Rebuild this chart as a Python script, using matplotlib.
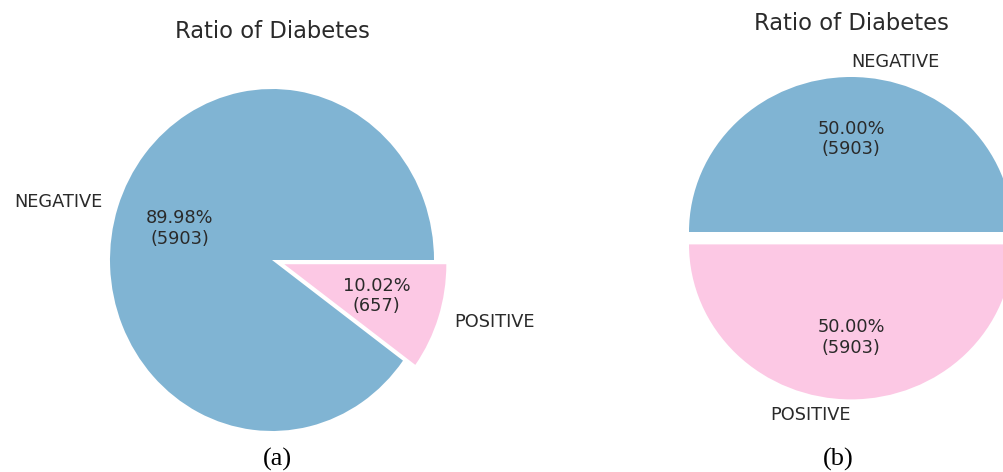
import matplotlib.pyplot as plt

plt.rcParams['font.family'] = 'DejaVu Sans'

# data
labels = ['NEGATIVE', 'POSITIVE']
counts_before = [5903, 657]     # (a) original data
counts_after = [5903, 5903]     # (b) after balancing
colors = ['#80b4d3', '#fcc8e4']
explode = [0, 0.08]


def make_autopct(values):
    total = sum(values)

    def fmt(pct):
        return '{:.2f}%\n({:d})'.format(pct, int(round(pct * total / 100.0)))
    return fmt


def draw_pie(fig, counts, cx, cy, rx, ry, title_y, sub, sub_x, sub_y):
    """Place a pie with its centre at (cx, cy) pixels, radii rx, ry"""
    W, H = fig.get_size_inches() * fig.dpi
    lim = 1.2
    ax = fig.add_axes([(cx - lim * rx) / W, (H - cy - lim * ry) / H,
                       2 * lim * rx / W, 2 * lim * ry / H])
    wedges, texts, autotexts = ax.pie(
        counts, labels=labels, colors=colors, explode=explode,
        autopct=make_autopct(counts),
        textprops={'fontsize': 12.8, 'color': '#2a2a2a'})
    ax.set_aspect('auto')
    ax.set_xlim(-lim, lim)
    ax.set_ylim(-lim, lim)
    fig.text(cx / W, 1 - title_y / H, 'Ratio of Diabetes', fontsize=16.3,
             ha='center', va='center', color='#2a2a2a')
    fig.text(sub_x / W, 1 - sub_y / H, sub, fontsize=19, ha='center',
             va='center', family='Liberation Serif')
    return ax, texts


def main():
    fig = plt.figure(figsize=(10.04, 4.72), dpi=100)
    draw_pie(fig, counts_before, 272, 260, 162, 171, 32, '(a)', 277, 459)
    ax, texts = draw_pie(fig, counts_after, 851, 232, 162, 155, 23,
                         '(b)', 838, 459)
    # labels sitting exactly at 90/270 degrees
    texts[0].set_ha('left')
    texts[1].set_ha('right')
    fig.savefig('out.png', dpi=100)


if __name__ == "__main__":
    main()
